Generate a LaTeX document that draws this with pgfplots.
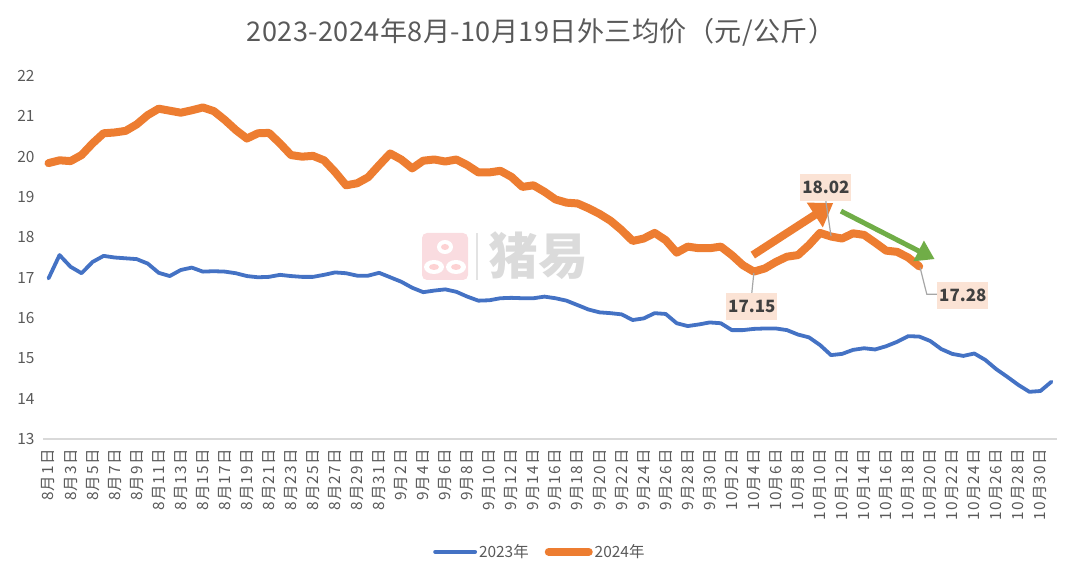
\documentclass[border=0pt]{standalone}
\usepackage{fontspec}
\setmainfont{Noto Sans CJK SC}
\newfontfamily\lblfont[LetterSpace=7]{Noto Sans CJK SC}
\newfontfamily\titlefont[LetterSpace=1.5]{Noto Sans CJK SC}
\usepackage{pgfplots}
\pgfplotsset{compat=1.18}
\usepackage{pgfplotstable}
\usetikzlibrary{arrows.meta}
\definecolor{cblue}{HTML}{4472C4}
\definecolor{corange}{HTML}{ED7D31}
\definecolor{cgreen}{HTML}{70AD47}
\definecolor{ctext}{HTML}{595959}
\definecolor{cbox}{HTML}{FBE3D5}
\definecolor{cgrid}{HTML}{D9D9D9}
\definecolor{clead}{HTML}{A6A6A6}
\definecolor{cpink}{HTML}{FADCE0}

\pgfplotstableread{
x y
0 16.98
1 17.56
2 17.27
3 17.11
4 17.39
5 17.54
6 17.50
7 17.48
8 17.46
9 17.35
10 17.12
11 17.04
12 17.19
13 17.25
14 17.15
15 17.16
16 17.15
17 17.11
18 17.04
19 17.01
20 17.02
21 17.07
22 17.04
23 17.02
24 17.02
25 17.07
26 17.13
27 17.11
28 17.05
29 17.05
30 17.12
31 17.01
32 16.90
33 16.75
34 16.64
35 16.68
36 16.71
37 16.65
38 16.53
39 16.43
40 16.44
41 16.49
42 16.50
43 16.49
44 16.49
45 16.53
46 16.49
47 16.43
48 16.32
49 16.21
50 16.14
51 16.12
52 16.09
53 15.95
54 15.99
55 16.12
56 16.10
57 15.87
58 15.80
59 15.84
60 15.89
61 15.87
62 15.70
63 15.70
64 15.73
65 15.74
66 15.74
67 15.70
68 15.59
69 15.52
70 15.33
71 15.08
72 15.11
73 15.21
74 15.25
75 15.22
76 15.30
77 15.41
78 15.55
79 15.54
80 15.43
81 15.23
82 15.11
83 15.06
84 15.12
85 14.96
86 14.73
87 14.54
88 14.34
89 14.17
90 14.19
91 14.42
}\dataA

\pgfplotstableread{
x y
0 19.84
1 19.91
2 19.89
3 20.04
4 20.33
5 20.58
6 20.60
7 20.64
8 20.80
9 21.03
10 21.19
11 21.14
12 21.09
13 21.15
14 21.22
15 21.13
16 20.91
17 20.66
18 20.45
19 20.58
20 20.59
21 20.33
22 20.04
23 20.00
24 20.02
25 19.91
26 19.62
27 19.29
28 19.34
29 19.49
30 19.79
31 20.08
32 19.93
33 19.71
34 19.90
35 19.93
36 19.88
37 19.93
38 19.79
39 19.61
40 19.61
41 19.65
42 19.50
43 19.25
44 19.29
45 19.13
46 18.94
47 18.86
48 18.84
49 18.72
50 18.58
51 18.41
52 18.18
53 17.91
54 17.97
55 18.11
56 17.93
57 17.62
58 17.77
59 17.73
60 17.73
61 17.77
62 17.56
63 17.31
64 17.15
65 17.23
66 17.39
67 17.52
68 17.56
69 17.81
70 18.11
71 18.02
72 17.97
73 18.10
74 18.06
75 17.87
76 17.67
77 17.64
78 17.50
79 17.28
}\dataB

\begin{document}
\begin{tikzpicture}
\useasboundingbox (0bp,0bp) rectangle (1080bp,577bp);
% title
\node[text=ctext, font=\titlefont\fontsize{27.2}{30}\selectfont] at (541bp,545bp) {2023-2024年8月-10月19日外三均价（元/公斤）};
% watermark
\fill[cpink, rounded corners=5bp] (422bp,297bp) rectangle (468bp,344bp);
\fill[white] (445bp,330bp) ellipse [x radius=8bp, y radius=7bp];
\fill[cpink!70!red!45] (445bp,330bp) ellipse [x radius=4bp, y radius=3bp];
\fill[white] (434bp,310bp) ellipse [x radius=10bp, y radius=7bp];
\fill[white] (456bp,310bp) ellipse [x radius=10bp, y radius=7bp];
\fill[cpink!70!red!45] (434bp,310bp) ellipse [x radius=5bp, y radius=3bp];
\fill[cpink!70!red!45] (456bp,310bp) ellipse [x radius=5bp, y radius=3bp];
\draw[gray!22, line width=1.5bp] (477bp,297bp) -- (477bp,344bp);
\node[text=gray!28, font=\fontsize{50}{54}\selectfont\bfseries] at (538bp,321bp) {猪易};
\begin{axis}[
  at={(43bp,138bp)}, anchor=south west,
  scale only axis, width=1014bp, height=363bp,
  xmin=-0.5, xmax=91.5, ymin=13, ymax=22,
  clip=false,
  axis line style={draw=none},
  tick style={draw=none},
  major tick length=0pt,
  ytick={13,14,...,22},
  /pgf/number format/assume math mode=true,
  yticklabel style={font=\fontsize{15.5}{18}\selectfont, text=ctext, xshift=-5bp},
  xtick={0,2,...,90},
  xticklabels={8月1日,8月3日,8月5日,8月7日,8月9日,8月11日,8月13日,8月15日,8月17日,8月19日,8月21日,8月23日,8月25日,8月27日,8月29日,8月31日,9月2日,9月4日,9月6日,9月8日,9月10日,9月12日,9月14日,9月16日,9月18日,9月20日,9月22日,9月24日,9月26日,9月28日,9月30日,10月2日,10月4日,10月6日,10月8日,10月10日,10月12日,10月14日,10月16日,10月18日,10月20日,10月22日,10月24日,10月26日,10月28日,10月30日},
  xticklabel style={rotate=90, anchor=east, font=\lblfont\fontsize{15.5}{17}\selectfont, text=ctext},
  xticklabel shift=7bp,
  legend style={at={(axis description cs:0.49,-0.311)}, anchor=center, draw=none, fill=none,
    legend columns=2, font=\fontsize{15.5}{18}\selectfont, text=ctext,
    /tikz/every even column/.append style={column sep=14bp}},
  legend image code/.code={\draw[#1] (0bp,0bp) -- (40bp,0bp);},
]
\draw[cgrid, line width=1.2bp] (axis cs:-0.5,13) -- (axis cs:91.5,13);
\addplot[cblue, line width=3.8bp, line join=round, line cap=round] table[x=x,y=y] {\dataA};
\addlegendentry{2023年}
\addplot[corange, line width=8bp, line join=round, line cap=round] table[x=x,y=y] {\dataB};
\addlegendentry{2024年}
% arrows
\draw[corange, line width=8bp, -{Triangle[length=22bp, width=28bp]}] (axis cs:63.9,17.56) -- (axis cs:71.2,18.85);
\draw[cgreen, line width=5bp, -{Triangle[length=18bp, width=22bp]}] (axis cs:71.9,18.65) -- (axis cs:80.4,17.46);
% leader lines
\draw[clead, line width=1.2bp] (axis cs:70.53,18.90) -- (axis cs:71.0,18.03);
\draw[clead, line width=1.2bp] (axis cs:64.0,17.12) -- (axis cs:63.8,16.59);
\draw[clead, line width=1.2bp] (axis cs:79.08,17.25) -- (axis cs:79.69,16.59) -- (axis cs:80.6,16.59);
% label boxes
\node[fill=cbox, text=black!75, font=\fontsize{17}{20}\selectfont\bfseries, minimum width=51bp, minimum height=27bp, inner sep=0pt] at (axis cs:70.53,19.24) {18.02};
\node[fill=cbox, text=black!75, font=\fontsize{17}{20}\selectfont\bfseries, minimum width=51bp, minimum height=27bp, inner sep=0pt] at (axis cs:63.81,16.28) {17.15};
\node[fill=cbox, text=black!75, font=\fontsize{17}{20}\selectfont\bfseries, minimum width=51bp, minimum height=27bp, inner sep=0pt] at (axis cs:82.96,16.57) {17.28};
\end{axis}
\end{tikzpicture}
\end{document}
